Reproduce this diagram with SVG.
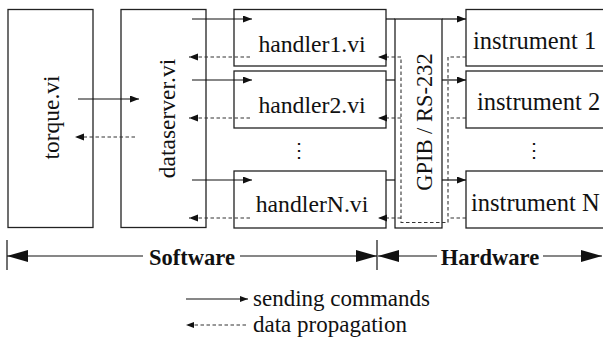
<svg xmlns="http://www.w3.org/2000/svg" width="603" height="343" viewBox="0 0 603 343">
<style>
.box{fill:#fff;stroke:#222;stroke-width:1.3}
.s{fill:none;stroke:#111;stroke-width:1.2}
.d{fill:none;stroke:#333;stroke-width:1.1;stroke-dasharray:3.5 2.5}
text{font-family:'Liberation Serif','Times New Roman',serif;fill:#111}
.b{font-weight:bold}
.dots{font-family:'DejaVu Serif',serif}
</style>
<defs>
<marker id="ah" markerUnits="userSpaceOnUse" markerWidth="10" markerHeight="8" refX="9" refY="3.5" orient="auto"><path d="M0,0 L9,3.5 L0,7 z" fill="#111"/></marker>
<marker id="big" markerUnits="userSpaceOnUse" markerWidth="22" markerHeight="13" refX="21" refY="6" orient="auto"><path d="M0,0 L21,6 L0,12 z" fill="#111"/></marker>
<marker id="sm" markerUnits="userSpaceOnUse" markerWidth="9" markerHeight="7" refX="8" refY="3" orient="auto"><path d="M0,0 L8,3 L0,6 z" fill="#111"/></marker>
</defs>

<g id="torque"><rect class="box" x="8" y="9.5" width="85" height="218"/>
<text font-size="23.5" text-anchor="middle" transform="translate(59,117.5) rotate(-90)">torque.vi</text></g>

<g id="dataserver"><rect class="box" x="121" y="9.5" width="85" height="218"/>
<text font-size="23.5" text-anchor="middle" transform="translate(175,118.5) rotate(-90)">dataserver.vi</text></g>

<g id="handler1"><rect class="box" x="234" y="9.5" width="152" height="56.5"/>
<text font-size="23.7" text-anchor="middle" x="312" y="51.5">handler1.vi</text></g>
<g id="handler2"><rect class="box" x="234" y="71" width="152" height="57"/>
<text font-size="23.7" text-anchor="middle" x="312" y="113">handler2.vi</text></g>
<g id="handlerDots"><text class="dots" font-size="20" text-anchor="middle" x="299" y="157">⋮</text></g>
<g id="handlerN"><rect class="box" x="234" y="171" width="152" height="57"/>
<text font-size="23.7" text-anchor="middle" x="312" y="212">handlerN.vi</text></g>

<g id="gpib"><rect class="s" x="395" y="19" width="47" height="209"/>
<text font-size="22.5" text-anchor="middle" transform="translate(432,122) rotate(-90)">GPIB / RS-232</text></g>

<g id="instrument1"><rect class="box" x="466" y="9.5" width="150" height="56.5"/>
<text font-size="24.5" x="473" y="49">instrument 1</text></g>
<g id="instrument2"><rect class="box" x="466" y="71" width="150" height="57"/>
<text font-size="24.5" x="477" y="110">instrument 2</text></g>
<g id="instrumentDots"><text class="dots" font-size="20" text-anchor="middle" x="534" y="157">⋮</text></g>
<g id="instrumentN"><rect class="box" x="466" y="171" width="150" height="57"/>
<text font-size="24.5" x="471" y="211">instrument N</text></g>

<g id="connectors">
<line class="s" x1="78" y1="99" x2="139" y2="99" marker-end="url(#ah)"/>
<line class="d" x1="135" y1="137" x2="75" y2="137" marker-end="url(#ah)"/>
<line class="s" x1="192" y1="19" x2="252" y2="19" marker-end="url(#ah)"/>
<line class="s" x1="192" y1="80" x2="252" y2="80" marker-end="url(#ah)"/>
<line class="s" x1="192" y1="180" x2="252" y2="180" marker-end="url(#ah)"/>
<line class="d" x1="250" y1="57" x2="189" y2="57" marker-end="url(#ah)"/>
<line class="d" x1="250" y1="118" x2="189" y2="118" marker-end="url(#ah)"/>
<line class="d" x1="250" y1="218" x2="189" y2="218" marker-end="url(#ah)"/>
<line class="s" x1="386" y1="19" x2="395" y2="19"/>
<line class="s" x1="386" y1="80" x2="395" y2="80"/>
<line class="s" x1="386" y1="180" x2="395" y2="180"/>
<line class="s" x1="442" y1="19" x2="466" y2="19" marker-end="url(#ah)"/>
<line class="s" x1="442" y1="80" x2="466" y2="80" marker-end="url(#ah)"/>
<line class="s" x1="442" y1="180" x2="466" y2="180" marker-end="url(#ah)"/>
<line class="d" x1="466" y1="57" x2="448" y2="57"/>
<line class="d" x1="466" y1="118" x2="448" y2="118"/>
<line class="d" x1="466" y1="218" x2="448" y2="218"/>
<path class="d" d="M448,57 V222.5 H401 V57"/>
<line class="d" x1="401" y1="57" x2="378" y2="57" marker-end="url(#ah)"/>
<line class="d" x1="401" y1="118" x2="378" y2="118" marker-end="url(#ah)"/>
<line class="d" x1="401" y1="218" x2="378" y2="218" marker-end="url(#ah)"/>
</g>

<g id="domains">
<line class="s" x1="7" y1="240" x2="7" y2="270"/>
<line class="s" x1="377" y1="240" x2="377" y2="270"/>
<line class="s" x1="143" y1="256" x2="7" y2="256" marker-end="url(#big)"/>
<line class="s" x1="240" y1="256" x2="377" y2="256" marker-end="url(#big)"/>
<text class="b" font-size="22.5" text-anchor="middle" x="192" y="264.5">Software</text>
<line class="s" x1="437" y1="256" x2="378" y2="256" marker-end="url(#big)"/>
<line class="s" x1="543" y1="256" x2="602" y2="256" marker-end="url(#big)"/>
<text class="b" font-size="22.5" text-anchor="middle" x="490" y="264.5">Hardware</text>
</g>

<g id="legend">
<line class="s" x1="186" y1="299" x2="248" y2="299" marker-end="url(#sm)"/>
<text font-size="23" x="253" y="306">sending commands</text>
<line class="d" x1="246" y1="325" x2="186" y2="325" marker-end="url(#sm)"/>
<text font-size="23" x="253" y="332">data propagation</text>
</g>
</svg>
